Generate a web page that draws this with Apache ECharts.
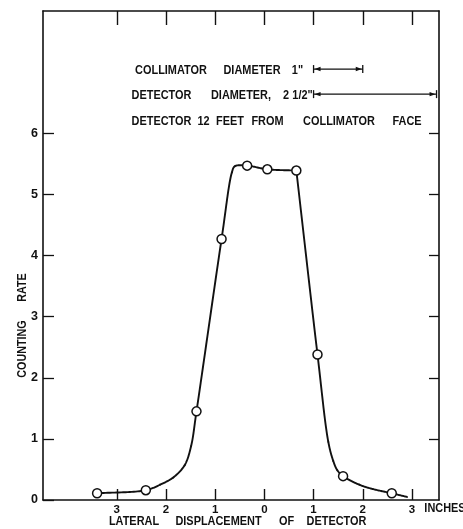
<!DOCTYPE html>
<html>
<head>
<meta charset="utf-8">
<script src="https://cdn.jsdelivr.net/npm/echarts@6/dist/echarts.min.js"></script>
<style>
  html, body { margin: 0; padding: 0; background: #fff; }
  #chart { width: 463px; height: 529px; }
</style>
</head>
<body>
<div id="chart"></div>
<script>
// Lateral displacement of the detector (inches, left side negative) and counting rate
const xTicks = [-3, -2, -1, 0, 1, 2, 3];
const yTicks = [0, 1, 2, 3, 4, 5, 6];

// Measured points (open circles)
const pointX = [-3.40, -2.41, -1.38, -0.87, -0.35, 0.06, 0.65, 1.08, 1.60, 2.59];
const pointY = [0.11, 0.16, 1.45, 4.27, 5.47, 5.41, 5.39, 2.38, 0.39, 0.11];

// Hand-drawn curve through the points
const curveX = [-3.40, -2.41, -2.12, -1.85, -1.62, -1.49, -1.38, -0.87, -0.66, -0.60, -0.35, 0.06, 0.65, 1.08, 1.30, 1.40, 1.48, 1.60, 1.93, 2.20, 2.59, 2.90];
const curveY = [0.11, 0.16, 0.25, 0.37, 0.57, 0.88, 1.45, 4.27, 5.36, 5.46, 5.47, 5.41, 5.39, 2.38, 0.95, 0.64, 0.49, 0.39, 0.25, 0.18, 0.11, 0.05];
// The pen turns sharply at this curve point (top right of the plateau)
const curveCorners = [12];

// Collimator (1") and detector (2 1/2") widths, in inches
const collimatorSpan = [1, 2];
const detectorSpan = [1, 3.5];

const ink = '#111';
const FAMILY = '"Liberation Sans", Arial, sans-serif';

const chart = echarts.init(document.getElementById('chart'), null, { renderer: 'canvas' });

// Lettering: narrow stencil-like capitals, each word centred on its slot
function word(text, x1, x2, y, size) {
  return { type: 'text', x: (x1 + x2) / 2, y: y, scaleX: 0.84, silent: true,
    style: { text: text, font: 'bold ' + (size || 13) + 'px ' + FAMILY, fill: ink, align: 'center', verticalAlign: 'middle' } };
}
function vword(text, y1, y2, x, size) {
  return { type: 'text', x: x, y: (y1 + y2) / 2, rotation: Math.PI / 2, scaleX: 0.86, silent: true,
    style: { text: text, font: 'bold ' + (size || 12.5) + 'px ' + FAMILY, fill: ink, align: 'center', verticalAlign: 'middle' } };
}

// Centripetal Catmull-Rom segment between curve points i and i+1 (pixel space)
function crPoint(P0, P1, P2, P3, t0, t1, t2, t3, t) {
  const lerp = (A, B, ta, tb) => [
    ((tb - t) * A[0] + (t - ta) * B[0]) / (tb - ta),
    ((tb - t) * A[1] + (t - ta) * B[1]) / (tb - ta)
  ];
  const A1 = lerp(P0, P1, t0, t1), A2 = lerp(P1, P2, t1, t2), A3 = lerp(P2, P3, t2, t3);
  const B1 = lerp(A1, A2, t0, t2), B2 = lerp(A2, A3, t1, t3);
  return lerp(B1, B2, t1, t2);
}
function renderCurve(params, api) {
  const i = params.dataIndex;
  const n = curveX.length;
  if (i >= n - 1) return { type: 'group', children: [] };
  const P = k => api.coord([curveX[k], curveY[k]]);
  const P1 = P(i), P2 = P(i + 1);
  const startHere = i === 0 || curveCorners.indexOf(i) >= 0;
  const endHere = i + 2 >= n || curveCorners.indexOf(i + 1) >= 0;
  const P0 = startHere ? [2 * P1[0] - P2[0], 2 * P1[1] - P2[1]] : P(i - 1);
  const P3 = endHere ? [2 * P2[0] - P1[0], 2 * P2[1] - P1[1]] : P(i + 2);
  const d = (A, B) => Math.pow(Math.hypot(B[0] - A[0], B[1] - A[1]), 0.5) || 1e-6;
  const t0 = 0, t1 = t0 + d(P0, P1), t2 = t1 + d(P1, P2), t3 = t2 + d(P2, P3);
  const pts = [];
  const steps = 24;
  for (let s = 0; s <= steps; s++) {
    pts.push(crPoint(P0, P1, P2, P3, t0, t1, t2, t3, t1 + (t2 - t1) * s / steps));
  }
  return { type: 'polyline', shape: { points: pts },
    style: { stroke: ink, lineWidth: 1.9, fill: null, lineJoin: 'round', lineCap: 'round' } };
}

// Dimension bar: line with arrowheads and end bars
function renderSpan(params, api) {
  const a = api.coord([api.value(0), api.value(2)]);
  const b = api.coord([api.value(1), api.value(2)]);
  const st = { stroke: ink, lineWidth: 1.3 };
  return {
    type: 'group',
    children: [
      { type: 'line', shape: { x1: a[0], y1: a[1], x2: b[0], y2: b[1] }, style: st },
      { type: 'line', shape: { x1: a[0], y1: a[1] - 4, x2: a[0], y2: a[1] + 4 }, style: st },
      { type: 'line', shape: { x1: b[0], y1: b[1] - 4, x2: b[0], y2: b[1] + 4 }, style: st },
      { type: 'polygon', shape: { points: [[a[0] + 1, a[1]], [a[0] + 7, a[1] - 2.2], [a[0] + 7, a[1] + 2.2]] }, style: { fill: ink } },
      { type: 'polygon', shape: { points: [[b[0] - 1, b[1]], [b[0] - 7, b[1] - 2.2], [b[0] - 7, b[1] + 2.2]] }, style: { fill: ink } }
    ]
  };
}

const lineStyleAxis = { color: ink, width: 1.6 };

chart.setOption({
  animation: false,
  backgroundColor: '#fff',
  grid: { left: 43, right: 24, top: 11, bottom: 29, containLabel: false },
  xAxis: [
    {
      type: 'value', min: -4.5, max: 3.55, position: 'bottom',
      axisLine: { show: true, onZero: false, lineStyle: lineStyleAxis },
      axisTick: { show: true, inside: true, length: 11, customValues: xTicks, lineStyle: { color: ink, width: 1.4 } },
      axisLabel: { show: true, customValues: xTicks, formatter: v => String(Math.abs(v)), color: ink,
        fontFamily: FAMILY, fontSize: 11.5, fontWeight: 'bold', margin: 4 },
      splitLine: { show: false }
    },
    {
      type: 'value', min: -4.5, max: 3.55, position: 'top',
      axisLine: { show: true, onZero: false, lineStyle: lineStyleAxis },
      axisTick: { show: true, inside: true, length: 14, customValues: xTicks, lineStyle: { color: ink, width: 1.4 } },
      axisLabel: { show: false },
      splitLine: { show: false }
    }
  ],
  yAxis: [
    {
      type: 'value', min: 0, max: 8, position: 'left',
      axisLine: { show: true, onZero: false, lineStyle: lineStyleAxis },
      axisTick: { show: true, inside: true, length: 11, customValues: yTicks, lineStyle: { color: ink, width: 1.3 } },
      axisLabel: { show: true, customValues: yTicks, color: ink,
        fontFamily: FAMILY, fontSize: 12.5, fontWeight: 'bold', margin: 5 },
      splitLine: { show: false }
    },
    {
      type: 'value', min: 0, max: 8, position: 'right',
      axisLine: { show: true, onZero: false, lineStyle: lineStyleAxis },
      axisTick: { show: true, inside: true, length: 10, customValues: yTicks.slice(1), lineStyle: { color: ink, width: 1.3 } },
      axisLabel: { show: false },
      splitLine: { show: false }
    }
  ],
  series: [
    {
      type: 'custom', xAxisIndex: 0, yAxisIndex: 0,
      data: curveX.map((x, i) => [x, curveY[i]]),
      renderItem: renderCurve, silent: true, z: 2
    },
    {
      type: 'scatter', xAxisIndex: 0, yAxisIndex: 0,
      data: pointX.map((x, i) => [x, pointY[i]]),
      symbol: 'circle', symbolSize: 9,
      itemStyle: { color: '#fff', borderColor: ink, borderWidth: 1.5, opacity: 1 },
      silent: true,
      z: 3
    },
    {
      type: 'custom', xAxisIndex: 0, yAxisIndex: 0,
      data: [
        [collimatorSpan[0], collimatorSpan[1], 7.05],
        [detectorSpan[0], detectorSpan[1], 6.64]
      ],
      renderItem: renderSpan, silent: true, clip: false, z: 4
    }
  ],
  graphic: [
    word('COLLIMATOR', 132, 210, 70), word('DIAMETER', 222, 282, 70), word('1"', 292, 303, 70),
    word('DETECTOR', 133, 190, 95), word('DIAMETER,', 205, 277, 95), word('2', 283, 289, 95), word('1/2"', 293, 312, 95),
    word('DETECTOR', 133, 190, 121), word('12', 199, 208, 121), word('FEET', 217, 243, 121), word('FROM', 252, 283, 121),
    word('COLLIMATOR', 298, 380, 121), word('FACE', 392, 422, 121),
    word('LATERAL', 108, 160, 521.5), word('DISPLACEMENT', 175, 262, 521.5), word('OF', 278, 295, 521.5), word('DETECTOR', 308, 365, 521.5),
    word('INCHES', 424, 466, 508),
    vword('RATE', 273, 302, 22.5),
    vword('COUNTING', 321, 377, 22.5)
  ]
});
</script>
</body>
</html>
